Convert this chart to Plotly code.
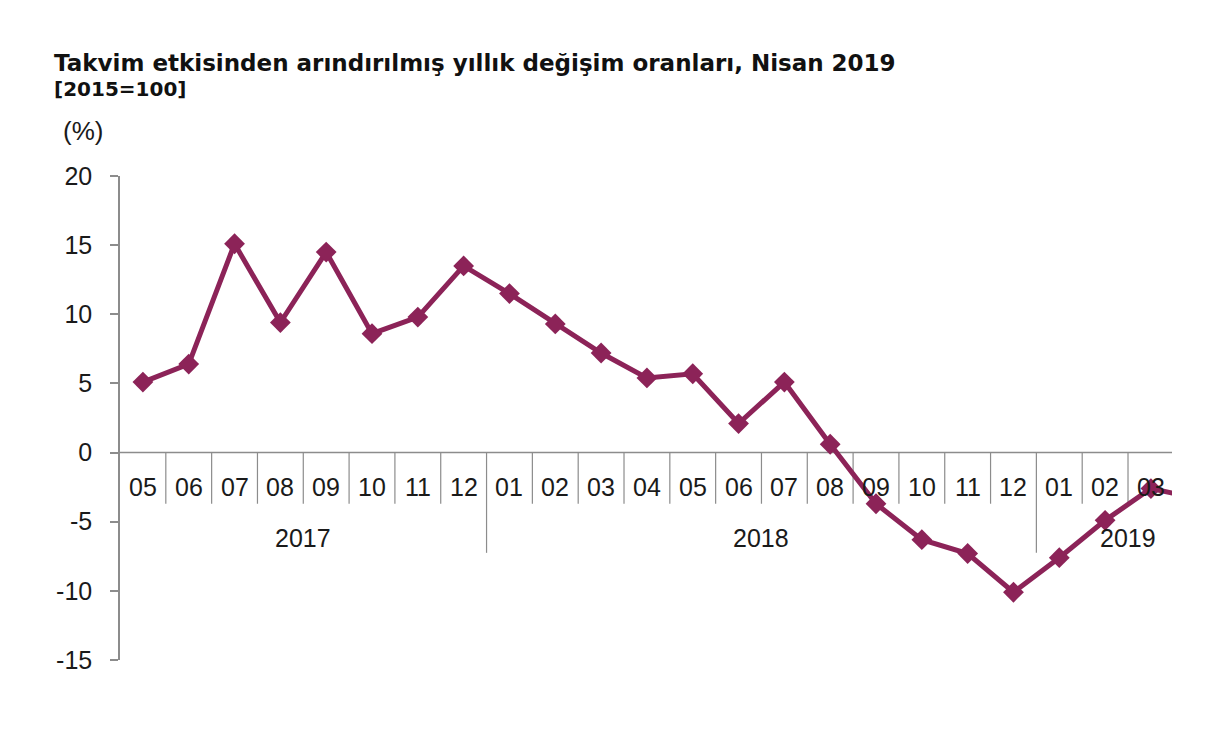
import plotly.graph_objects as go

# Data
months = ["05", "06", "07", "08", "09", "10", "11", "12",
          "01", "02", "03", "04", "05", "06", "07", "08", "09", "10", "11", "12",
          "01", "02", "03", "04"]
years = ["2017", "2018", "2019"]
year_counts = [8, 12, 4]
values = [5.1, 6.4, 15.1, 9.4, 14.5, 8.6, 9.8, 13.5,
          11.5, 9.3, 7.2, 5.4, 5.7, 2.1, 5.1, 0.6, -3.7, -6.3, -7.3, -10.1,
          -7.6, -4.9, -2.6, -3.3]
y_ticks = [-15, -10, -5, 0, 5, 10, 15, 20]
y_tick_text = ["-15", "-10", "-5", "0", "5", "10", "15", "20"]

title_main = "Takvim etkisinden arındırılmış yıllık değişim oranları, Nisan 2019"
title_sub = "[2015=100]"
unit_label = "(%)"

LINE_COLOR = "#8c2358"
AXIS_COLOR = "#8c8c8c"
FONT = "Liberation Sans, Arial, sans-serif"
TFONT = "DejaVu Sans, sans-serif"

OFF = 8  # default page body margin
W, H = 1231, 734
# target plot area in page pixels
PX0, PX1, PY0, PY1 = 120, 1172, 176, 660
L = PX0 - OFF
R = OFF + W - PX1
T = PY0 - OFF
B = OFF + H - PY1
pw, ph = W - L - R, H - T - B

x = list(range(len(values)))

fig = go.Figure()
fig.add_trace(go.Scatter(
    x=x, y=values, mode="lines+markers",
    line=dict(color=LINE_COLOR, width=5),
    marker=dict(symbol="diamond", size=16, color=LINE_COLOR),
    cliponaxis=True, showlegend=False, hoverinfo="skip",
))

shapes = []
annotations = []
# zero axis line
shapes.append(dict(type="line", xref="paper", yref="y", x0=0, x1=1, y0=0, y1=0,
                   line=dict(color=AXIS_COLOR, width=1.5), layer="below"))
# separators
year_bounds = []
acc = 0
for c in year_counts[:-1]:
    acc += c
    year_bounds.append(acc - 0.5)
for i in range(len(months) - 1):
    xb = i + 0.5
    ylow = -7.25 if xb in year_bounds else -3.7
    shapes.append(dict(type="line", xref="x", yref="y", x0=xb, x1=xb, y0=0, y1=ylow,
                       line=dict(color=AXIS_COLOR, width=1.2), layer="below"))
# month labels
for i, m in enumerate(months):
    annotations.append(dict(x=i, y=-2.5, xref="x", yref="y", text=m, showarrow=False,
                            font=dict(family=FONT, size=25, color="#1a1a1a"),
                            xanchor="center", yanchor="middle"))
# year labels
start = 0
for yname, c in zip(years, year_counts):
    center = start + (c - 1) / 2
    annotations.append(dict(x=center, y=-6.2, xref="x", yref="y", text=yname, showarrow=False,
                            font=dict(family=FONT, size=25, color="#1a1a1a"),
                            xanchor="center", yanchor="middle"))
    start += c


def px_to_paper(xp, yp):
    return (xp - OFF - L) / pw, (H - (yp - OFF) - B) / ph


tx, ty = px_to_paper(52, 63)
annotations.append(dict(x=tx, y=ty, xref="paper", yref="paper", text="<b>" + title_main + "</b>",
                        showarrow=False, xanchor="left", yanchor="middle",
                        font=dict(family=TFONT, size=23, color="#111")))
tx, ty = px_to_paper(52, 89)
annotations.append(dict(x=tx, y=ty, xref="paper", yref="paper", text="<b>" + title_sub + "</b>",
                        showarrow=False, xanchor="left", yanchor="middle",
                        font=dict(family=TFONT, size=20, color="#111")))
tx, ty = px_to_paper(61, 131)
annotations.append(dict(x=tx, y=ty, xref="paper", yref="paper", text=unit_label,
                        showarrow=False, xanchor="left", yanchor="middle",
                        font=dict(family=FONT, size=26, color="#1a1a1a")))

fig.update_layout(
    width=W, height=H,
    margin=dict(l=L, r=R, t=T, b=B, pad=0),
    paper_bgcolor="white", plot_bgcolor="white",
    xaxis=dict(range=[-0.5, 22.46], showgrid=False, zeroline=False, showticklabels=False,
               showline=False, ticks="", fixedrange=True),
    yaxis=dict(range=[-15, 20], tickvals=y_ticks, ticktext=y_tick_text, showgrid=False, zeroline=False,
               showline=True, linecolor=AXIS_COLOR, linewidth=1.5,
               ticks="outside", ticklen=8, tickcolor=AXIS_COLOR, tickwidth=1.5,
               tickfont=dict(family=FONT, size=25, color="#1a1a1a"), ticklabelstandoff=13),
    shapes=shapes, annotations=annotations,
)

fig.write_html("out.html")
